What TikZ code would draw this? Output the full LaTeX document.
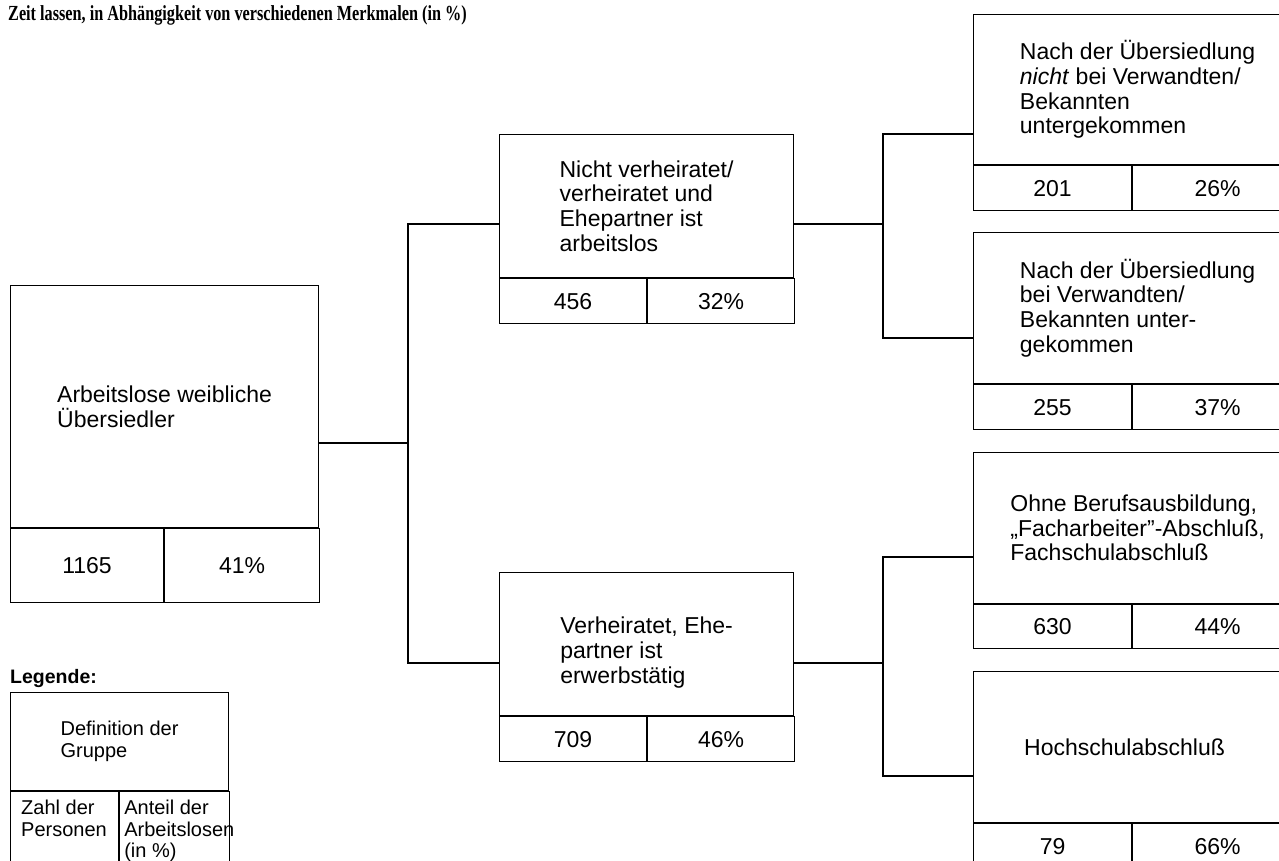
\documentclass[tikz,border=0pt]{standalone}
\usepackage{fontspec}
\setmainfont{Liberation Sans}
\newfontfamily\titelfont[FakeStretch=0.755]{Liberation Serif}
\usetikzlibrary{positioning}
\tikzset{
	def/.style={draw, line width=1.1pt, align=left, inner sep=0pt, anchor=north west, font=\fontsize{23}{24.7}\selectfont},
	zelle/.style={draw, line width=1.1pt, inner sep=0pt, anchor=north west, font=\fontsize{23}{24.7}\selectfont},
	legtext/.style={align=left, inner sep=0pt, anchor=north west, font=\fontsize{20}{21.5}\selectfont},
	linie/.style={line width=1.1pt},
}
\begin{document}
\begin{tikzpicture}[x=1pt,y=-1pt]
		\useasboundingbox (0,0) rectangle (1279,861);
		\clip (0,0) rectangle (1279,861);
		\node[anchor=base west, inner sep=0pt, font=\titelfont\bfseries\fontsize{21.5}{23}\selectfont] (titel) at (8,21) {Zeit lassen, in Abhängigkeit von verschiedenen Merkmalen (in \%)};
		% Ausgangsgruppe
		\node[def, minimum width=308pt, minimum height=242pt] (wurzel) at (10,285) {Arbeitslose weibliche\\Übersiedler};
		\node[zelle, minimum width=153pt, minimum height=74pt] (wurzel-n) at (wurzel.south west) {1165};
		\node[zelle, minimum width=155pt, minimum height=74pt] (wurzel-p) at (wurzel-n.north east) {41\%};
		% zweite Stufe
		\node[def, minimum width=294pt, minimum height=143pt] (a) at (499,134) {Nicht verheiratet/\\verheiratet und\\Ehepartner ist\\arbeitslos};
		\node[zelle, minimum width=147pt, minimum height=45pt] (a-n) at (a.south west) {456};
		\node[zelle, minimum width=147pt, minimum height=45pt] (a-p) at (a-n.north east) {32\%};
		\node[def, minimum width=294pt, minimum height=143pt] (c) at (499,572) {\mbox{}\\[9pt]Verheiratet, Ehe-\\partner ist\\erwerbstätig};
		\node[zelle, minimum width=147pt, minimum height=45pt] (c-n) at (c.south west) {709};
		\node[zelle, minimum width=147pt, minimum height=45pt] (c-p) at (c-n.north east) {46\%};
		% dritte Stufe
		\node[def, minimum width=328pt, minimum height=150pt] (b1) at (973,14) {Nach der Übersiedlung\\\textit{nicht} bei Verwandten/\\Bekannten\\untergekommen};
		\node[zelle, minimum width=158pt, minimum height=45pt] (b1-n) at (b1.south west) {201};
		\node[zelle, minimum width=170pt, minimum height=45pt] (b1-p) at (b1-n.north east) {26\%};
		\node[def, minimum width=328pt, minimum height=151pt] (b2) at (973,232) {Nach der Übersiedlung\\bei Verwandten/\\Bekannten unter-\\gekommen};
		\node[zelle, minimum width=158pt, minimum height=45pt] (b2-n) at (b2.south west) {255};
		\node[zelle, minimum width=170pt, minimum height=45pt] (b2-p) at (b2-n.north east) {37\%};
		\node[def, minimum width=328pt, minimum height=151pt] (b3) at (973,452) {Ohne Berufsausbildung,\\„Facharbeiter”-Abschluß,\\Fachschulabschluß};
		\node[zelle, minimum width=158pt, minimum height=44pt] (b3-n) at (b3.south west) {630};
		\node[zelle, minimum width=170pt, minimum height=44pt] (b3-p) at (b3-n.north east) {44\%};
		\node[def, minimum width=328pt, minimum height=151pt] (b4) at (973,671) {Hochschulabschluß\hspace*{26pt}};
		\node[zelle, minimum width=158pt, minimum height=45pt] (b4-n) at (b4.south west) {79};
		\node[zelle, minimum width=170pt, minimum height=45pt] (b4-p) at (b4-n.north east) {66\%};
		% Verbindungen
		\coordinate (k1) at (408,443);
		\coordinate (k2) at (883,224);
		\coordinate (k3) at (883,663);
		\coordinate (k4) at (883,134);
		\coordinate (k5) at (883,338);
		\coordinate (k6) at (883,557);
		\coordinate (k7) at (883,776);
		\draw[linie] (wurzel.east |- k1) -- (k1);
		\draw[linie] (a.west |- k2) -| (k1) |- (c.west |- k3);
		\draw[linie] (a.east |- k2) -- (k2);
		\draw[linie] (b1.west |- k4) -| (k2) |- (b2.west |- k5);
		\draw[linie] (c.east |- k3) -- (k3);
		\draw[linie] (b3.west |- k6) -| (k3) |- (b4.west |- k7);
		% Legende
		\node[anchor=base west, inner sep=0pt, font=\bfseries\fontsize{19.5}{21}\selectfont] (legende) at (10,683) {Legende:};
		\node[def, minimum width=218pt, minimum height=98pt, font=\fontsize{20}{21.5}\selectfont] (leg) at (10,692) {Definition der\\Gruppe};
		\node[zelle, minimum width=108pt, minimum height=90pt] (leg-n) at (leg.south west) {};
		\node[zelle, minimum width=110pt, minimum height=90pt] (leg-p) at (leg-n.north east) {};
		\node[legtext] (leg-n-t) at ([xshift=11pt,yshift=-9pt]leg-n.north west) {Zahl der\\Personen};
		\node[legtext] (leg-p-t) at ([xshift=5pt,yshift=-9pt]leg-p.north west) {Anteil der\\Arbeitslosen\\(in \%)};
\end{tikzpicture}
\end{document}
